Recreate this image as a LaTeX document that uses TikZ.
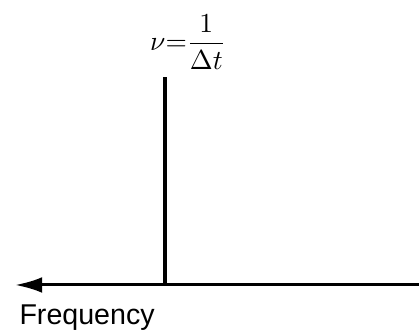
\documentclass[tikz,border=0pt]{standalone}
\usepackage{amsmath}
\usepackage{fontspec}
\setmainfont{Liberation Sans}
\usetikzlibrary{positioning,arrows.meta}

\begin{document}
\begin{tikzpicture}[x=0.014cm,y=-0.014cm,every node/.style={font=\small},
  axisline/.style={line width=1.2pt,-{Latex[length=3.8mm,width=2.2mm]}},
  spikeline/.style={line width=1.2pt}]
\useasboundingbox (0,0) rectangle (419,335);
% axis and spike
\coordinate (axisR) at (419,285);
\coordinate (axisL) at (15,285);
\coordinate (spikeB) at (165,285);
\coordinate (spikeT) at (165,77);
\draw[axisline] (axisR) -- (axisL);
\draw[spikeline] (spikeB) -- (spikeT);
% labels
\node[inner sep=0pt] (nulabel) at (188,42) {\fontsize{10.5}{12}\selectfont$\nu{=}\dfrac{1}{\Delta t}$};
\node[anchor=west,inner sep=0pt,font=\fontsize{11.4}{13}\selectfont] (freq) at (19,318) {Frequency};
\end{tikzpicture}
\end{document}
